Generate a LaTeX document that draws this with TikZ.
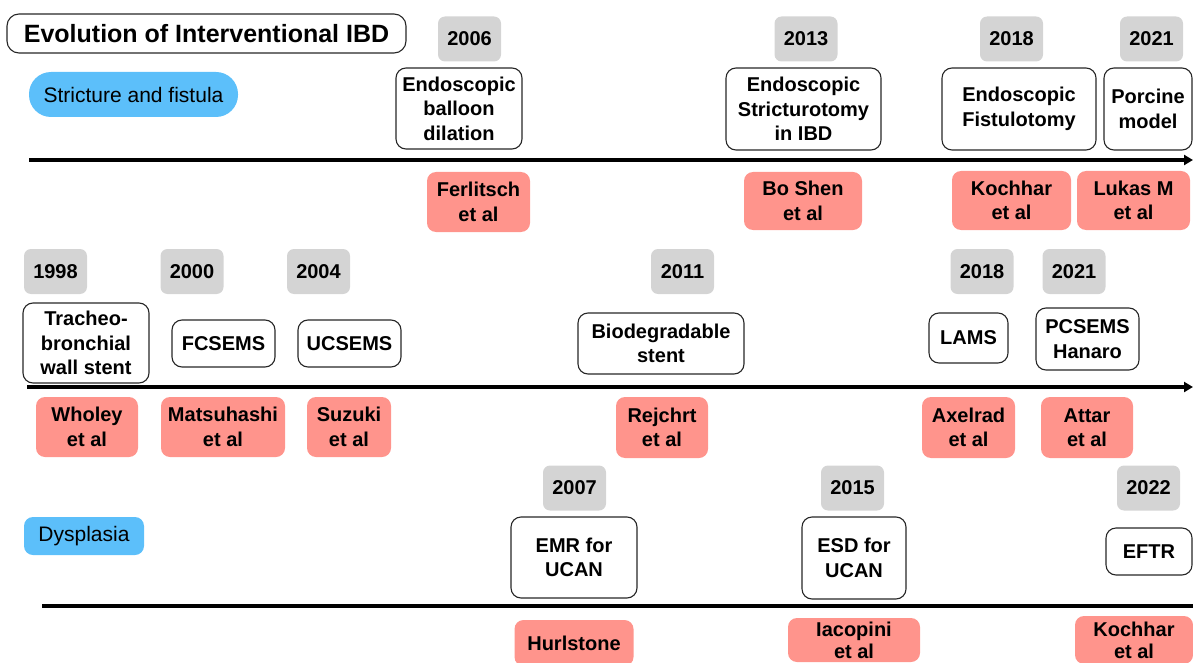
\documentclass[tikz,border=0pt]{standalone}
\usepackage{fontspec}
\setmainfont{Liberation Sans}
\usetikzlibrary{arrows.meta}
\definecolor{gray1}{rgb}{0.83,0.83,0.83}
\definecolor{red1}{rgb}{1,0.58,0.55}
\definecolor{blue1}{rgb}{0.36,0.75,0.98}

\begin{document}
\begin{tikzpicture}[x=1pt,y=-1pt,
  yearbox/.style={fill=gray1, rounded corners=7pt, minimum width=63pt, minimum height=45pt, inner sep=0pt, font=\fontsize{20}{22}\selectfont\bfseries},
  eventbox/.style={draw=black!85, line width=1.1pt, rounded corners=10pt, inner sep=0pt, align=center, font=\fontsize{20}{24.5}\selectfont\bfseries},
  refbox/.style={fill=red1, rounded corners=9pt, inner sep=0pt, align=center, font=\fontsize{20}{24.5}\selectfont\bfseries},
  topicbox/.style={fill=blue1, inner sep=0pt, font=\fontsize{21}{23}\selectfont},
  axis/.style={line width=3.7pt},
]
\useasboundingbox (0,0) rectangle (1193,663);

\node[draw=black!85, line width=1.1pt, rounded corners=12pt, minimum width=399pt, minimum height=39pt, inner sep=0pt, font=\fontsize{25}{28}\selectfont\bfseries] (title) at (206.5,33.5) {Evolution of Interventional IBD};

% stricture and fistula
\node[topicbox, rounded corners=22pt, minimum width=209pt, minimum height=45pt] (strict) at (133.5,94.5) {Stricture and fistula};
\coordinate (s1) at (29,160);
\coordinate (e1) at (1193,160);
\draw[axis, -{Triangle[length=9pt,width=10pt]}] (s1) -- (e1);

\node[yearbox] (y2006) at (469.5,39) {2006};
\node[eventbox, minimum width=126pt, minimum height=81pt] (ebd) at (459,108.5) {Endoscopic\\balloon\\dilation};
\node[refbox, minimum width=103pt, minimum height=60pt] (ferl) at (478.5,202) {Ferlitsch\\et al};

\node[yearbox] (y2013) at (806,39) {2013};
\node[eventbox, minimum width=155pt, minimum height=82pt] (est) at (803.5,109) {Endoscopic\\Stricturotomy\\in IBD};
\node[refbox, minimum width=118pt, minimum height=58pt] (shen) at (803,201) {Bo Shen\\et al};

\node[yearbox] (y2018a) at (1011.5,39) {2018};
\node[eventbox, minimum width=154pt, minimum height=82pt] (efist) at (1019,109) {Endoscopic\\Fistulotomy};
\node[refbox, minimum width=119pt, minimum height=59pt] (koch1) at (1011.5,200.5) {Kochhar\\et al};

\node[yearbox] (y2021a) at (1151.5,39) {2021};
\node[eventbox, minimum width=88pt, minimum height=82pt] (porc) at (1148,109) {Porcine\\model};
\node[refbox, minimum width=113pt, minimum height=59pt] (lukas) at (1133.5,200.5) {Lukas M\\et al};

% stents
\coordinate (s2) at (27,387);
\coordinate (e2) at (1193,387);
\draw[axis, -{Triangle[length=9pt,width=10pt]}] (s2) -- (e2);

\node[yearbox] (y1998) at (55.5,271.5) {1998};
\node[eventbox, minimum width=126pt, minimum height=80pt] (trach) at (86,343) {Tracheo-\\bronchial\\wall stent};
\node[refbox, minimum width=102pt, minimum height=60pt] (whol) at (87,427) {Wholey\\et al};

\node[yearbox] (y2000) at (192,271.5) {2000};
\node[eventbox, minimum width=103pt, minimum height=47pt] (fcsems) at (223.5,343.5) {FCSEMS};
\node[refbox, minimum width=124pt, minimum height=60pt] (mats) at (223,427) {Matsuhashi\\et al};

\node[yearbox] (y2004) at (318.5,271.5) {2004};
\node[eventbox, minimum width=103pt, minimum height=47pt] (ucsems) at (349.5,343.5) {UCSEMS};
\node[refbox, minimum width=84pt, minimum height=60pt] (suz) at (349,427) {Suzuki\\et al};

\node[yearbox] (y2011) at (682.5,271.5) {2011};
\node[eventbox, minimum width=166pt, minimum height=61pt] (biod) at (661,343.5) {Biodegradable\\stent};
\node[refbox, minimum width=92pt, minimum height=61pt] (rejc) at (662,427.5) {Rejchrt\\et al};

\node[yearbox] (y2018b) at (982,271.5) {2018};
\node[eventbox, minimum width=79pt, minimum height=50pt] (lams) at (968.5,338) {LAMS};
\node[refbox, minimum width=93pt, minimum height=61pt] (axel) at (968.5,427.5) {Axelrad\\et al};

\node[yearbox] (y2021b) at (1074,271.5) {2021};
\node[eventbox, minimum width=103pt, minimum height=62pt] (pcsems) at (1087.5,339) {PCSEMS\\Hanaro};
\node[refbox, minimum width=92pt, minimum height=61pt] (attar) at (1087,427.5) {Attar\\et al};

% dysplasia
\node[topicbox, rounded corners=9pt, minimum width=120pt, minimum height=38pt] (dysp) at (84,536) {Dysplasia};
\coordinate (s3) at (42,606);
\coordinate (e3) at (1193,606);
\draw[axis] (s3) -- (e3);

\node[yearbox] (y2007) at (574.5,488) {2007};
\node[eventbox, minimum width=126pt, minimum height=81pt] (emr) at (574,557.5) {EMR for\\UCAN};
\node[refbox, minimum width=119pt, minimum height=46pt] (hurl) at (574,643) {Hurlstone};

\node[yearbox] (y2015) at (852.5,488) {2015};
\node[eventbox, minimum width=104pt, minimum height=82pt] (esd) at (854,558) {ESD for\\UCAN};
\node[refbox, minimum width=132pt, minimum height=44pt, font=\fontsize{20}{22}\selectfont\bfseries] (iaco) at (854,640) {Iacopini\\et al};

\node[yearbox] (y2022) at (1148.5,488) {2022};
\node[eventbox, minimum width=86pt, minimum height=47pt] (eftr) at (1149,551.5) {EFTR};
\node[refbox, minimum width=118pt, minimum height=48pt, font=\fontsize{20}{22}\selectfont\bfseries] (koch2) at (1134,640) {Kochhar\\et al};
\end{tikzpicture}
\end{document}
